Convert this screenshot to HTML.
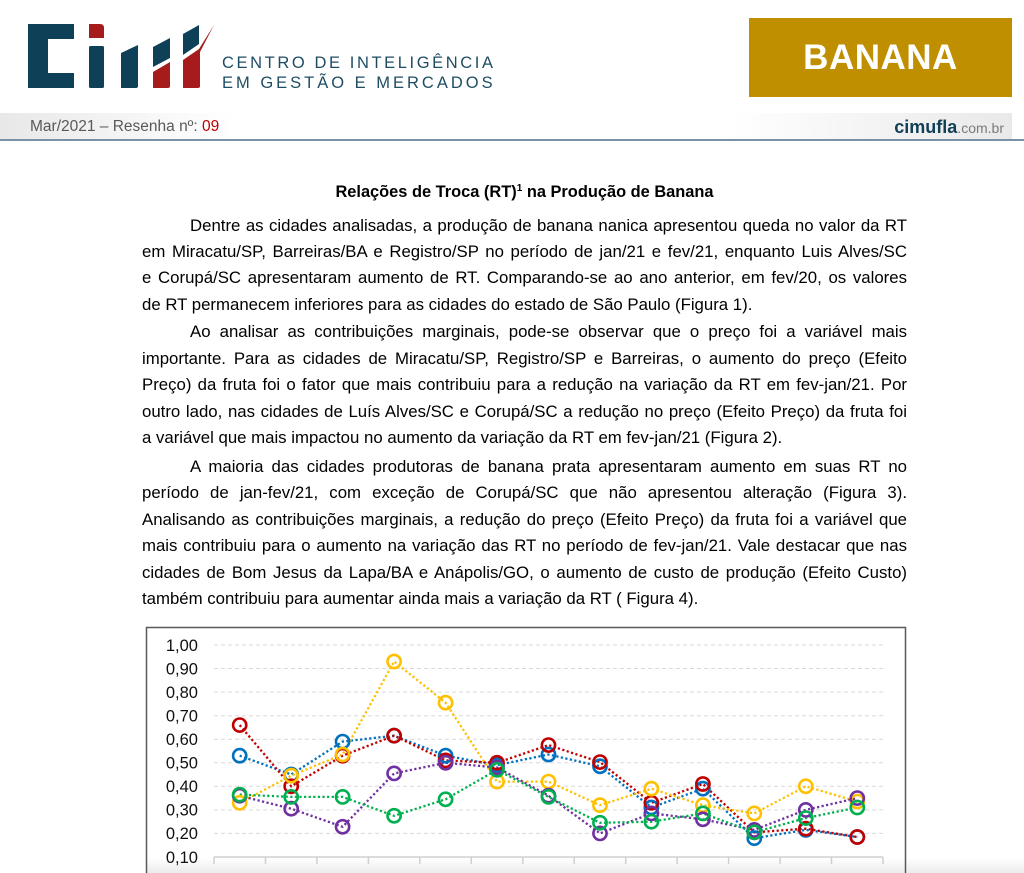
<!DOCTYPE html>
<html>
<head>
<meta charset="utf-8">
<style>
  html,body{margin:0;padding:0;background:#fff;}
  body{width:1024px;height:873px;position:relative;overflow:hidden;font-family:"Liberation Sans",Arial,sans-serif;color:#000;}
  .abs{position:absolute;}
  .ln{position:absolute;left:142px;width:765px;height:26px;line-height:26px;font-size:16.8px;text-align:justify;text-align-last:justify;white-space:nowrap;}
  .ind{left:190px;width:717px;}
  .last{text-align:left;text-align-last:left;}
  .logo-t{position:absolute;left:222px;font-size:16.5px;line-height:16.5px;color:#1e4d63;white-space:nowrap;}
</style>
</head>
<body>

<svg class="abs" style="left:0;top:0" width="1024" height="873" viewBox="0 0 1024 873" xmlns="http://www.w3.org/2000/svg">
  <defs>
    <linearGradient id="band" x1="0" y1="0" x2="1" y2="0">
      <stop offset="0" stop-color="#e8e8e8"/>
      <stop offset="0.23" stop-color="#ffffff"/>
      <stop offset="0.72" stop-color="#ffffff"/>
      <stop offset="1" stop-color="#e9e9e9"/>
    </linearGradient>
    <linearGradient id="btm" x1="0" y1="0" x2="0" y2="1">
      <stop offset="0" stop-color="#ffffff"/>
      <stop offset="1" stop-color="#ebebeb"/>
    </linearGradient>
  </defs>

  <!-- logo -->
  <g fill="#0e4058">
    <path d="M28,24 H74 V39 H48 V73 H74 V88 H28 Z"/>
    <rect x="89" y="46" width="15" height="42" rx="1.5"/>
    <path d="M121,53 L138,45 V86 Q138,88 136,88 H121 Z"/>
    <path d="M153,47 L170,38 V58 L153,67 Z"/>
    <path d="M183,34 L199,25 V44 L183,55 Z"/>
  </g>
  <g fill="#a61c1c">
    <path d="M89,24 H100 Q104,24 104,28 V38 H89 Z"/>
    <path d="M153,72 L170,62 V86 Q170,88 168,88 H153 Z"/>
    <path d="M183,60 L199,49 L214,25 L200,52 V86 Q200,88 198,88 H183 Z"/>
  </g>

  <!-- banana box -->
  <rect x="749" y="18" width="263" height="79" fill="#bf8f00"/>

  <!-- sub header band -->
  <rect x="0" y="113" width="1012" height="26" fill="url(#band)"/>
  <rect x="0" y="139" width="1024" height="2" fill="#7893a7"/>

  <!-- chart -->
  <rect x="147" y="858" width="877" height="15" fill="url(#btm)"/>
  <rect x="146.5" y="627.5" width="759" height="260" fill="none" stroke="#595959" stroke-width="1.5"/>

  <g stroke="#d9d9d9" stroke-width="1" stroke-dasharray="4 3" fill="none">
    <line x1="214" y1="645" x2="883" y2="645"/>
    <line x1="214" y1="668.5" x2="883" y2="668.5"/>
    <line x1="214" y1="692.1" x2="883" y2="692.1"/>
    <line x1="214" y1="715.7" x2="883" y2="715.7"/>
    <line x1="214" y1="739.2" x2="883" y2="739.2"/>
    <line x1="214" y1="762.8" x2="883" y2="762.8"/>
    <line x1="214" y1="786.3" x2="883" y2="786.3"/>
    <line x1="214" y1="809.9" x2="883" y2="809.9"/>
    <line x1="214" y1="833.4" x2="883" y2="833.4"/>
  </g>
  <g stroke="#d0d0d0" stroke-width="1.5" fill="none">
    <line x1="214" y1="857" x2="883" y2="857"/>
    <path d="M214,857V864 M265.5,857V864 M316.9,857V864 M368.4,857V864 M419.8,857V864 M471.3,857V864 M522.8,857V864 M574.2,857V864 M625.7,857V864 M677.1,857V864 M728.6,857V864 M780.1,857V864 M831.5,857V864 M883,857V864"/>
  </g>

  <g font-family="Liberation Sans, Arial, sans-serif" font-size="16.5" fill="#111" text-anchor="end">
    <text x="198" y="650.8">1,00</text>
    <text x="198" y="674.3">0,90</text>
    <text x="198" y="697.9">0,80</text>
    <text x="198" y="721.5">0,70</text>
    <text x="198" y="745">0,60</text>
    <text x="198" y="768.6">0,50</text>
    <text x="198" y="792.1">0,40</text>
    <text x="198" y="815.7">0,30</text>
    <text x="198" y="839.2">0,20</text>
    <text x="198" y="862.8">0,10</text>
  </g>

  <g fill="none" stroke-width="2.3" stroke-dasharray="2.2 2.4" stroke-linecap="butt">
    <polyline stroke="#0070c0" points="239.7,755.7 291.2,774.5 342.6,741.6 394.1,735.7 445.6,755.7 497,765.1 548.5,754.5 600,766.3 651.4,807.5 702.9,788.7 754.3,838.2 805.8,829.9 857.3,837"/>
    <polyline stroke="#c00000" points="239.7,725.1 291.2,786.3 342.6,755.7 394.1,735.7 445.6,760.4 497,762.8 548.5,745.1 600,762.1 651.4,802.8 702.9,784 754.3,832.3 805.8,828.7 857.3,837"/>
    <polyline stroke="#ffc000" points="239.7,802.8 291.2,775.7 342.6,754.5 394.1,661.5 445.6,702.7 497,781.6 548.5,781.6 600,805.2 651.4,788.7 702.9,805.2 754.3,813.4 805.8,786.3 857.3,801.6"/>
    <polyline stroke="#7030a0" points="239.7,795.7 291.2,808.7 342.6,826.8 394.1,773.4 445.6,762.8 497,767.5 548.5,795.7 600,833.4 651.4,813.4 702.9,819.3 754.3,829.9 805.8,809.9 857.3,798.1"/>
    <polyline stroke="#00b050" points="239.7,794.6 291.2,796.9 342.6,796.9 394.1,815.8 445.6,799.3 497,769.8 548.5,796.9 600,822.8 651.4,821.7 702.9,813.4 754.3,832.3 805.8,818.1 857.3,807.5"/>
  </g>

  <g fill="none" stroke-width="2.6">
    <g stroke="#0070c0">
      <circle cx="239.7" cy="755.7" r="6.6"/><circle cx="291.2" cy="774.5" r="6.6"/><circle cx="342.6" cy="741.6" r="6.6"/><circle cx="394.1" cy="735.7" r="6.6"/><circle cx="445.6" cy="755.7" r="6.6"/><circle cx="497" cy="765.1" r="6.6"/><circle cx="548.5" cy="754.5" r="6.6"/><circle cx="600" cy="766.3" r="6.6"/><circle cx="651.4" cy="807.5" r="6.6"/><circle cx="702.9" cy="788.7" r="6.6"/><circle cx="754.3" cy="838.2" r="6.6"/><circle cx="805.8" cy="829.9" r="6.6"/><circle cx="857.3" cy="837" r="6.6"/>
    </g>
    <g stroke="#c00000">
      <circle cx="239.7" cy="725.1" r="6.6"/><circle cx="291.2" cy="786.3" r="6.6"/><circle cx="342.6" cy="755.7" r="6.6"/><circle cx="394.1" cy="735.7" r="6.6"/><circle cx="445.6" cy="760.4" r="6.6"/><circle cx="497" cy="762.8" r="6.6"/><circle cx="548.5" cy="745.1" r="6.6"/><circle cx="600" cy="762.1" r="6.6"/><circle cx="651.4" cy="802.8" r="6.6"/><circle cx="702.9" cy="784" r="6.6"/><circle cx="754.3" cy="832.3" r="6.6"/><circle cx="805.8" cy="828.7" r="6.6"/><circle cx="857.3" cy="837" r="6.6"/>
    </g>
    <g stroke="#ffc000">
      <circle cx="239.7" cy="802.8" r="6.6"/><circle cx="291.2" cy="775.7" r="6.6"/><circle cx="342.6" cy="754.5" r="6.6"/><circle cx="394.1" cy="661.5" r="6.6"/><circle cx="445.6" cy="702.7" r="6.6"/><circle cx="497" cy="781.6" r="6.6"/><circle cx="548.5" cy="781.6" r="6.6"/><circle cx="600" cy="805.2" r="6.6"/><circle cx="651.4" cy="788.7" r="6.6"/><circle cx="702.9" cy="805.2" r="6.6"/><circle cx="754.3" cy="813.4" r="6.6"/><circle cx="805.8" cy="786.3" r="6.6"/><circle cx="857.3" cy="801.6" r="6.6"/>
    </g>
    <g stroke="#7030a0">
      <circle cx="239.7" cy="795.7" r="6.6"/><circle cx="291.2" cy="808.7" r="6.6"/><circle cx="342.6" cy="826.8" r="6.6"/><circle cx="394.1" cy="773.4" r="6.6"/><circle cx="445.6" cy="762.8" r="6.6"/><circle cx="497" cy="767.5" r="6.6"/><circle cx="548.5" cy="795.7" r="6.6"/><circle cx="600" cy="833.4" r="6.6"/><circle cx="651.4" cy="813.4" r="6.6"/><circle cx="702.9" cy="819.3" r="6.6"/><circle cx="754.3" cy="829.9" r="6.6"/><circle cx="805.8" cy="809.9" r="6.6"/><circle cx="857.3" cy="798.1" r="6.6"/>
    </g>
    <g stroke="#00b050">
      <circle cx="239.7" cy="794.6" r="6.6"/><circle cx="291.2" cy="796.9" r="6.6"/><circle cx="342.6" cy="796.9" r="6.6"/><circle cx="394.1" cy="815.8" r="6.6"/><circle cx="445.6" cy="799.3" r="6.6"/><circle cx="497" cy="769.8" r="6.6"/><circle cx="548.5" cy="796.9" r="6.6"/><circle cx="600" cy="822.8" r="6.6"/><circle cx="651.4" cy="821.7" r="6.6"/><circle cx="702.9" cy="813.4" r="6.6"/><circle cx="754.3" cy="832.3" r="6.6"/><circle cx="805.8" cy="818.1" r="6.6"/><circle cx="857.3" cy="807.5" r="6.6"/>
    </g>
  </g>
</svg>

<!-- logo text -->
<div class="logo-t" style="top:55px;letter-spacing:2.6px;">CENTRO DE INTELIGÊNCIA</div>
<div class="logo-t" style="top:75px;letter-spacing:3px;">EM GESTÃO E MERCADOS</div>

<!-- banana -->
<div class="abs" style="left:749px;top:18px;width:263px;height:79px;line-height:79px;text-align:center;color:#fff;font-weight:bold;font-size:35px;letter-spacing:0.5px;">BANANA</div>

<!-- sub header -->
<div class="abs" style="left:30px;top:116px;height:22px;line-height:22px;font-size:15.5px;color:#595959;white-space:nowrap;">Mar/2021 – Resenha nº: <span style="color:#c00000;">09</span></div>
<div class="abs" style="left:820px;width:184px;top:115px;height:24px;line-height:24px;text-align:right;white-space:nowrap;"><span style="font-weight:bold;font-size:18px;color:#123f55;">cimufla</span><span style="font-size:14px;color:#7a7a7a;">.com.br</span></div>

<!-- title -->
<div class="abs" style="left:142px;width:765px;top:179px;height:26px;line-height:26px;text-align:center;font-weight:bold;font-size:16.4px;white-space:nowrap;">Relações de Troca (RT)<sup style="font-size:10px;line-height:0;vertical-align:6px;">1</sup> na Produção de Banana</div>

<!-- body text -->
<div class="ln ind" style="top:212.5px;">Dentre as cidades analisadas, a produção de banana nanica apresentou queda no valor da RT</div>
<div class="ln" style="top:238.8px;">em Miracatu/SP, Barreiras/BA e Registro/SP no período de jan/21 e fev/21, enquanto Luis Alves/SC</div>
<div class="ln" style="top:265.1px;">e Corupá/SC apresentaram aumento de RT. Comparando-se ao ano anterior, em fev/20, os valores</div>
<div class="ln last" style="top:291.5px;">de RT permanecem inferiores para as cidades do estado de São Paulo (Figura 1).</div>

<div class="ln ind" style="top:319px;">Ao analisar as contribuições marginais, pode-se observar que o preço foi a variável mais</div>
<div class="ln" style="top:345.5px;">importante. Para as cidades de Miracatu/SP, Registro/SP e Barreiras, o aumento do preço (Efeito</div>
<div class="ln" style="top:372px;">Preço) da fruta foi o fator que mais contribuiu para a redução na variação da RT em fev-jan/21. Por</div>
<div class="ln" style="top:398.5px;">outro lado, nas cidades de Luís Alves/SC e Corupá/SC a redução no preço (Efeito Preço) da fruta foi</div>
<div class="ln last" style="top:425px;">a variável que mais impactou no aumento da variação da RT em fev-jan/21 (Figura 2).</div>

<div class="ln ind" style="top:453.5px;">A maioria das cidades produtoras de banana prata apresentaram aumento em suas RT no</div>
<div class="ln" style="top:480px;">período de jan-fev/21, com exceção de Corupá/SC que não apresentou alteração (Figura 3).</div>
<div class="ln" style="top:506.5px;">Analisando as contribuições marginais, a redução do preço (Efeito Preço) da fruta foi a variável que</div>
<div class="ln" style="top:533px;">mais contribuiu para o aumento na variação das RT no período de fev-jan/21. Vale destacar que nas</div>
<div class="ln" style="top:559.5px;">cidades de Bom Jesus da Lapa/BA e Anápolis/GO, o aumento de custo de produção (Efeito Custo)</div>
<div class="ln last" style="top:586px;">também contribuiu para aumentar ainda mais a variação da RT ( Figura 4).</div>

</body>
</html>
